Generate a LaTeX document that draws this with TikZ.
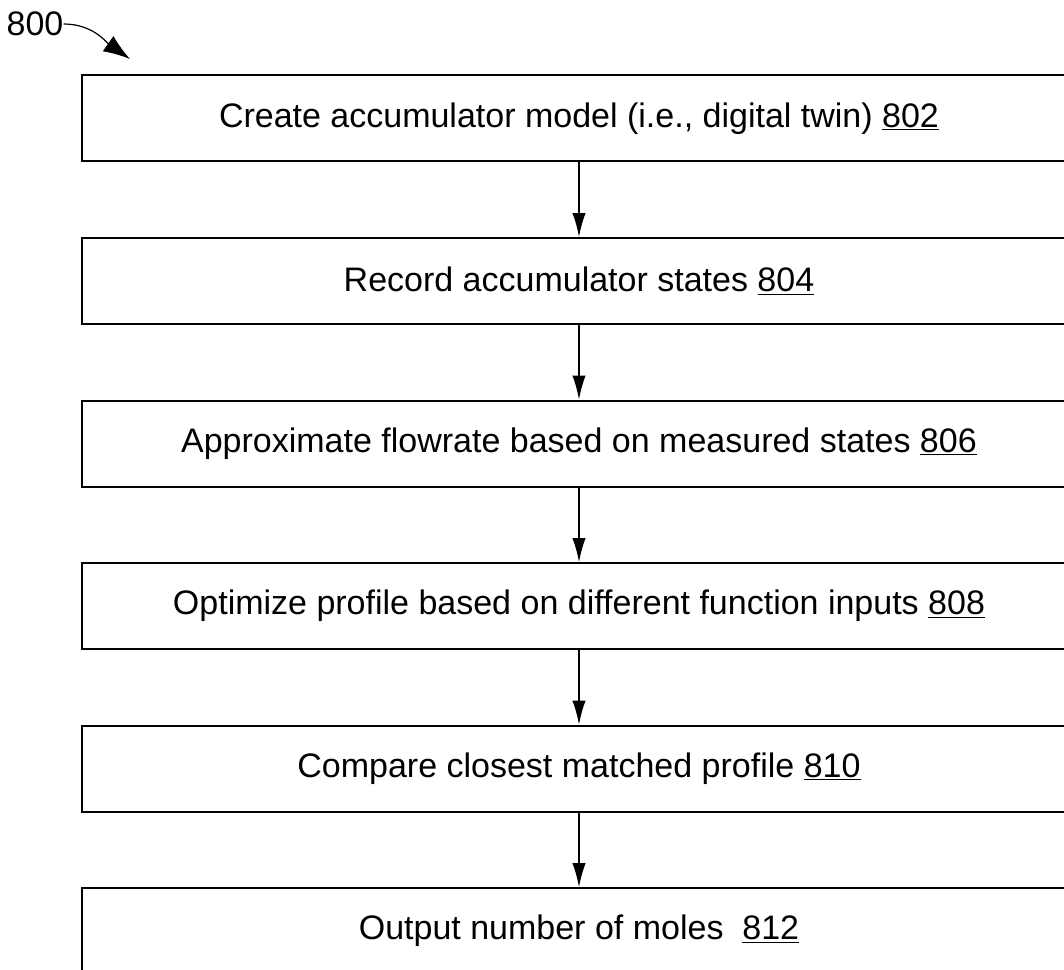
\documentclass[tikz,border=0pt]{standalone}
\usepackage{fontspec}
\setmainfont{Liberation Sans}
\usepackage{tikz}
\usetikzlibrary{positioning,arrows.meta}

\begin{document}
\begin{tikzpicture}[
  x=0.75pt, y=-0.75pt,
  font=\fontsize{25.5}{30}\selectfont,
  node distance=55.9pt,
  every node/.style={align=center},
  stepbox/.style ={rectangle, draw=black, line width=1.5pt, fill=white,
                   minimum width=745.5pt, minimum height=64.5pt, inner sep=0pt},
  flow/.style    ={draw=black, line width=1.1pt, -{Latex[length=18pt,width=10pt]}},
  callout/.style ={draw=black, line width=0.9pt, -{Latex[length=20pt,width=14pt]}},
]

\useasboundingbox (0,0) rectangle (1064,970);
\clip (0,0) rectangle (1064,970);

% --- Figure number ---
\node[inner sep=0pt] (fig) at (35,24) {800};
\coordinate (figtip) at (130,59);
\draw[callout] (fig.east) to[out=0,in=145] (figtip);

% --- Steps ---
\node[stepbox] (s802) at (579,118.5)  {Create accumulator model (i.e., digital twin) \underline{802}};
\node[stepbox, below=of s802] (s804) {Record accumulator states \underline{804}};
\node[stepbox, below=of s804] (s806) {Approximate flowrate based on measured states \underline{806}};
\node[stepbox, below=of s806] (s808) {Optimize profile based on different function inputs \underline{808}};
\node[stepbox, below=of s808] (s810) {Compare closest matched profile \underline{810}};
\node[stepbox, below=of s810] (s812) {Output number of moles\ \ \underline{812}};

% --- Links ---
\draw[flow] (s802) -- (s804);
\draw[flow] (s804) -- (s806);
\draw[flow] (s806) -- (s808);
\draw[flow] (s808) -- (s810);
\draw[flow] (s810) -- (s812);

\end{tikzpicture}
\end{document}
